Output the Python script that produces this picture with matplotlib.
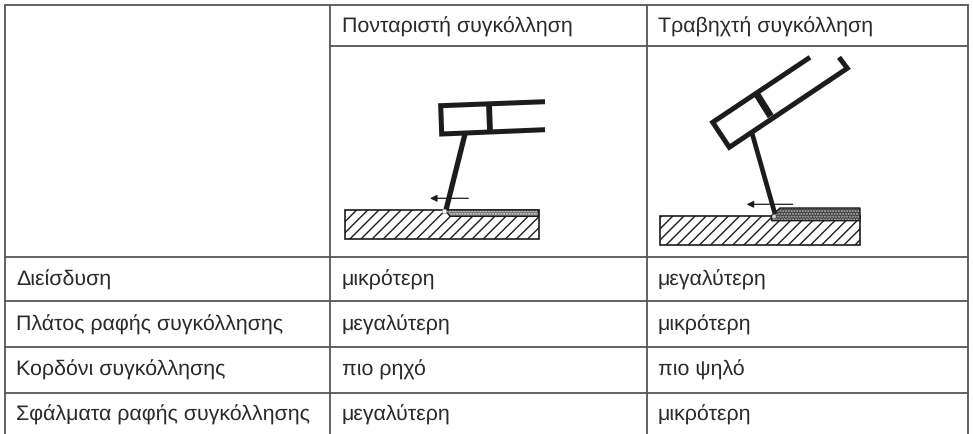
import matplotlib
matplotlib.use("Agg")
import matplotlib.pyplot as plt
from matplotlib.patches import Rectangle, Polygon, Circle

plt.rcParams["font.family"] = ["Liberation Sans", "DejaVu Sans"]
plt.rcParams["hatch.linewidth"] = 1.0
plt.rcParams["text.hinting"] = "none"

header = ["Πονταριστή συγκόλληση", "Τραβηχτή συγκόλληση"]
row_names = ["Διείσδυση", "Πλάτος ραφής συγκόλλησης", "Κορδόνι συγκόλλησης", "Σφάλματα ραφής συγκόλλησης"]
pushed = ["μικρότερη", "μεγαλύτερη", "πιο ρηχό", "μεγαλύτερη"]
pulled = ["μεγαλύτερη", "μικρότερη", "πιο ψηλό", "μικρότερη"]

col_x = [4.5, 330, 647.3, 968]
row_y = [5.7, 47.3, 257.5, 302.3, 348.3, 394.3]
text_y = [280, 325, 370, 415]

fig = plt.figure(figsize=(9.73, 4.35), dpi=100)
ax = fig.add_axes([0, 0, 1, 1])
ax.set_xlim(0, 973)
ax.set_ylim(435, 0)
ax.axis("off")

GRID = "#555555"
INK = "#1c1c1c"
TXT = "#2a2a2a"

# grid
for x in col_x:
    ax.plot([x, x], [row_y[0], 435], color=GRID, lw=1.3, solid_capstyle="butt")
for i, y in enumerate(row_y):
    x0 = col_x[1] if i == 1 else col_x[0]
    ax.plot([x0, col_x[-1]], [y, y], color=GRID, lw=1.3, solid_capstyle="projecting")


def cell(x, y, s):
    ax.text(x, y, s, fontsize=15.4, color=TXT, va="center", ha="left")


cell(342, 27, header[0])
cell(658, 27, header[1])
for i in range(4):
    cell(16, text_y[i], row_names[i])
    cell(342, text_y[i], pushed[i])
    cell(658, text_y[i], pulled[i])


def plate(x0, x1, y0, y1, bead, bead_fc, speck):
    ax.add_patch(Rectangle((x0, y0), x1 - x0, y1 - y0, fc="white", ec=INK, lw=1.2, hatch="///", zorder=2))
    ax.add_patch(Polygon(bead, closed=True, fc=bead_fc, ec="none", hatch="......", zorder=3, lw=0))
    ax.patches[-1].set_edgecolor(speck)
    ax.add_patch(Polygon(bead, closed=True, fc="none", ec=INK, lw=1.0, zorder=4))


def arrow(x0, x1, y):
    ax.annotate("", xy=(x1, y), xytext=(x0, y),
                arrowprops=dict(arrowstyle="-|>", color=INK, lw=0.9, mutation_scale=10, shrinkA=0, shrinkB=0))


# left sketch
plate(345, 539, 211, 240, [(445, 211), (538.5, 211), (538.5, 217.3), (450, 217.3)], "#777777", "#d5d5d5")
ax.add_patch(Circle((444.5, 212.5), 2.2, fc="white", ec="#999999", lw=0.5, zorder=5))
ax.plot([545, 440.7, 441.7, 545], [102.7, 106.7, 135, 130.7], color=INK, lw=3.6,
        solid_joinstyle="miter", solid_capstyle="butt", zorder=3)
ax.plot([489, 490], [105, 132], color=INK, lw=4.2, solid_capstyle="butt", zorder=3)
ax.plot([465, 446], [135, 211], color=INK, lw=3.8, solid_capstyle="butt", zorder=3)
arrow(468.3, 430, 199.3)

# right sketch
plate(659.5, 860, 216.7, 246, [(771.5, 216.7), (780, 209), (860, 209), (860, 221.7), (771.5, 221.7)], "#3f3f3f", "#b8b8b8")
ax.add_patch(Circle((774, 217.5), 2.0, fc="#cccccc", ec="none", zorder=5))
ax.plot([810, 712.7, 729.3, 847.3, 839], [58.3, 123.3, 148.3, 69.3, 58.3], color=INK, lw=3.6,
        solid_joinstyle="miter", solid_capstyle="butt", zorder=3)
ax.plot([756.7, 770.7], [95, 117.3], color=INK, lw=5, solid_capstyle="butt", zorder=3)
ax.plot([752.3, 775], [135, 215], color=INK, lw=3.4, solid_capstyle="butt", zorder=3)
arrow(792.7, 746.7, 205.3)

fig.savefig("out.png", dpi=100)
